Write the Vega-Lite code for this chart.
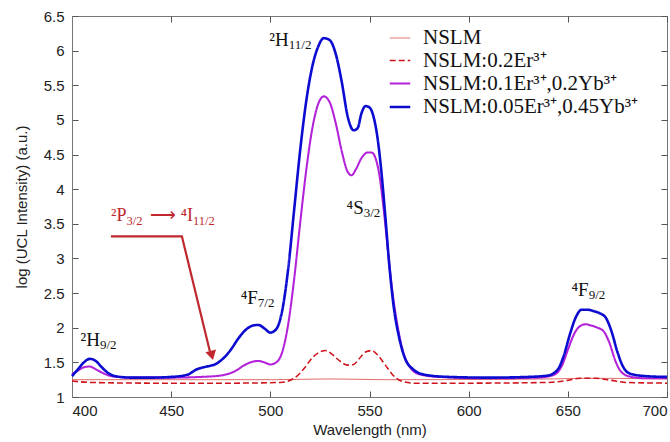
{
  "$schema": "https://vega.github.io/schema/vega-lite/v6.json",
  "width": 595,
  "height": 381,
  "autosize": "none",
  "padding": {"left": 72, "top": 16, "right": 3, "bottom": 45},
  "background": "white",
  "config": {
    "view": {"stroke": "#777", "strokeWidth": 1},
    "axis": {"labelFont": "Liberation Sans", "titleFont": "Liberation Sans", "labelFontSize": 15, "titleFontSize": 15, "labelColor": "#222", "titleColor": "#222", "titleFontWeight": "normal", "domainColor": "#777", "tickColor": "#555", "tickWidth": 1, "grid": false}
  },
  "datasets": {
    "spec": [
      {"s": "NSLM", "w": 400, "v": 1.25}, {"s": "NSLM", "w": 450, "v": 1.25}, {"s": "NSLM", "w": 500, "v": 1.25}, {"s": "NSLM", "w": 530, "v": 1.26}, {"s": "NSLM", "w": 560, "v": 1.25}, {"s": "NSLM", "w": 640, "v": 1.26}, {"s": "NSLM", "w": 660, "v": 1.27}, {"s": "NSLM", "w": 700, "v": 1.26},

      {"s": "NSLM:0.2Er³⁺", "w": 400, "v": 1.23}, {"s": "NSLM:0.2Er³⁺", "w": 410, "v": 1.21}, {"s": "NSLM:0.2Er³⁺", "w": 440, "v": 1.2}, {"s": "NSLM:0.2Er³⁺", "w": 480, "v": 1.2}, {"s": "NSLM:0.2Er³⁺", "w": 505, "v": 1.21}, {"s": "NSLM:0.2Er³⁺", "w": 512, "v": 1.27}, {"s": "NSLM:0.2Er³⁺", "w": 517, "v": 1.41}, {"s": "NSLM:0.2Er³⁺", "w": 521, "v": 1.56}, {"s": "NSLM:0.2Er³⁺", "w": 525, "v": 1.65}, {"s": "NSLM:0.2Er³⁺", "w": 528, "v": 1.67}, {"s": "NSLM:0.2Er³⁺", "w": 531, "v": 1.62}, {"s": "NSLM:0.2Er³⁺", "w": 535, "v": 1.52}, {"s": "NSLM:0.2Er³⁺", "w": 539, "v": 1.46}, {"s": "NSLM:0.2Er³⁺", "w": 542, "v": 1.47}, {"s": "NSLM:0.2Er³⁺", "w": 545, "v": 1.56}, {"s": "NSLM:0.2Er³⁺", "w": 548, "v": 1.65}, {"s": "NSLM:0.2Er³⁺", "w": 551, "v": 1.67}, {"s": "NSLM:0.2Er³⁺", "w": 554, "v": 1.61}, {"s": "NSLM:0.2Er³⁺", "w": 558, "v": 1.46}, {"s": "NSLM:0.2Er³⁺", "w": 562, "v": 1.31}, {"s": "NSLM:0.2Er³⁺", "w": 566, "v": 1.23}, {"s": "NSLM:0.2Er³⁺", "w": 572, "v": 1.2}, {"s": "NSLM:0.2Er³⁺", "w": 600, "v": 1.2}, {"s": "NSLM:0.2Er³⁺", "w": 640, "v": 1.21}, {"s": "NSLM:0.2Er³⁺", "w": 650, "v": 1.24}, {"s": "NSLM:0.2Er³⁺", "w": 656, "v": 1.27}, {"s": "NSLM:0.2Er³⁺", "w": 664, "v": 1.27}, {"s": "NSLM:0.2Er³⁺", "w": 672, "v": 1.24}, {"s": "NSLM:0.2Er³⁺", "w": 680, "v": 1.21}, {"s": "NSLM:0.2Er³⁺", "w": 700, "v": 1.2},

      {"s": "NSLM:0.1Er³⁺,0.2Yb³⁺", "w": 400, "v": 1.33}, {"s": "NSLM:0.1Er³⁺,0.2Yb³⁺", "w": 403, "v": 1.38}, {"s": "NSLM:0.1Er³⁺,0.2Yb³⁺", "w": 406, "v": 1.43}, {"s": "NSLM:0.1Er³⁺,0.2Yb³⁺", "w": 409, "v": 1.44}, {"s": "NSLM:0.1Er³⁺,0.2Yb³⁺", "w": 412, "v": 1.4}, {"s": "NSLM:0.1Er³⁺,0.2Yb³⁺", "w": 416, "v": 1.34}, {"s": "NSLM:0.1Er³⁺,0.2Yb³⁺", "w": 420, "v": 1.3}, {"s": "NSLM:0.1Er³⁺,0.2Yb³⁺", "w": 430, "v": 1.28}, {"s": "NSLM:0.1Er³⁺,0.2Yb³⁺", "w": 450, "v": 1.28}, {"s": "NSLM:0.1Er³⁺,0.2Yb³⁺", "w": 465, "v": 1.29}, {"s": "NSLM:0.1Er³⁺,0.2Yb³⁺", "w": 475, "v": 1.31}, {"s": "NSLM:0.1Er³⁺,0.2Yb³⁺", "w": 482, "v": 1.37}, {"s": "NSLM:0.1Er³⁺,0.2Yb³⁺", "w": 487, "v": 1.46}, {"s": "NSLM:0.1Er³⁺,0.2Yb³⁺", "w": 491, "v": 1.51}, {"s": "NSLM:0.1Er³⁺,0.2Yb³⁺", "w": 494, "v": 1.52}, {"s": "NSLM:0.1Er³⁺,0.2Yb³⁺", "w": 497, "v": 1.5}, {"s": "NSLM:0.1Er³⁺,0.2Yb³⁺", "w": 500, "v": 1.47}, {"s": "NSLM:0.1Er³⁺,0.2Yb³⁺", "w": 503, "v": 1.5}, {"s": "NSLM:0.1Er³⁺,0.2Yb³⁺", "w": 506, "v": 1.65}, {"s": "NSLM:0.1Er³⁺,0.2Yb³⁺", "w": 509, "v": 2.05}, {"s": "NSLM:0.1Er³⁺,0.2Yb³⁺", "w": 512, "v": 2.7}, {"s": "NSLM:0.1Er³⁺,0.2Yb³⁺", "w": 515, "v": 3.5}, {"s": "NSLM:0.1Er³⁺,0.2Yb³⁺", "w": 518, "v": 4.25}, {"s": "NSLM:0.1Er³⁺,0.2Yb³⁺", "w": 521, "v": 4.85}, {"s": "NSLM:0.1Er³⁺,0.2Yb³⁺", "w": 524, "v": 5.22}, {"s": "NSLM:0.1Er³⁺,0.2Yb³⁺", "w": 527, "v": 5.34}, {"s": "NSLM:0.1Er³⁺,0.2Yb³⁺", "w": 530, "v": 5.25}, {"s": "NSLM:0.1Er³⁺,0.2Yb³⁺", "w": 533, "v": 4.95}, {"s": "NSLM:0.1Er³⁺,0.2Yb³⁺", "w": 536, "v": 4.55}, {"s": "NSLM:0.1Er³⁺,0.2Yb³⁺", "w": 539, "v": 4.25}, {"s": "NSLM:0.1Er³⁺,0.2Yb³⁺", "w": 541, "v": 4.2}, {"s": "NSLM:0.1Er³⁺,0.2Yb³⁺", "w": 543, "v": 4.28}, {"s": "NSLM:0.1Er³⁺,0.2Yb³⁺", "w": 546, "v": 4.45}, {"s": "NSLM:0.1Er³⁺,0.2Yb³⁺", "w": 549, "v": 4.53}, {"s": "NSLM:0.1Er³⁺,0.2Yb³⁺", "w": 551, "v": 4.53}, {"s": "NSLM:0.1Er³⁺,0.2Yb³⁺", "w": 553, "v": 4.45}, {"s": "NSLM:0.1Er³⁺,0.2Yb³⁺", "w": 555, "v": 4.2}, {"s": "NSLM:0.1Er³⁺,0.2Yb³⁺", "w": 557, "v": 3.75}, {"s": "NSLM:0.1Er³⁺,0.2Yb³⁺", "w": 559, "v": 3.2}, {"s": "NSLM:0.1Er³⁺,0.2Yb³⁺", "w": 561, "v": 2.65}, {"s": "NSLM:0.1Er³⁺,0.2Yb³⁺", "w": 564, "v": 2.05}, {"s": "NSLM:0.1Er³⁺,0.2Yb³⁺", "w": 567, "v": 1.65}, {"s": "NSLM:0.1Er³⁺,0.2Yb³⁺", "w": 570, "v": 1.45}, {"s": "NSLM:0.1Er³⁺,0.2Yb³⁺", "w": 575, "v": 1.33}, {"s": "NSLM:0.1Er³⁺,0.2Yb³⁺", "w": 585, "v": 1.29}, {"s": "NSLM:0.1Er³⁺,0.2Yb³⁺", "w": 610, "v": 1.27}, {"s": "NSLM:0.1Er³⁺,0.2Yb³⁺", "w": 635, "v": 1.28}, {"s": "NSLM:0.1Er³⁺,0.2Yb³⁺", "w": 643, "v": 1.32}, {"s": "NSLM:0.1Er³⁺,0.2Yb³⁺", "w": 647, "v": 1.45}, {"s": "NSLM:0.1Er³⁺,0.2Yb³⁺", "w": 650, "v": 1.68}, {"s": "NSLM:0.1Er³⁺,0.2Yb³⁺", "w": 653, "v": 1.9}, {"s": "NSLM:0.1Er³⁺,0.2Yb³⁺", "w": 656, "v": 2.02}, {"s": "NSLM:0.1Er³⁺,0.2Yb³⁺", "w": 659, "v": 2.05}, {"s": "NSLM:0.1Er³⁺,0.2Yb³⁺", "w": 662, "v": 2.03}, {"s": "NSLM:0.1Er³⁺,0.2Yb³⁺", "w": 665, "v": 2.0}, {"s": "NSLM:0.1Er³⁺,0.2Yb³⁺", "w": 668, "v": 1.95}, {"s": "NSLM:0.1Er³⁺,0.2Yb³⁺", "w": 671, "v": 1.78}, {"s": "NSLM:0.1Er³⁺,0.2Yb³⁺", "w": 674, "v": 1.52}, {"s": "NSLM:0.1Er³⁺,0.2Yb³⁺", "w": 677, "v": 1.36}, {"s": "NSLM:0.1Er³⁺,0.2Yb³⁺", "w": 682, "v": 1.29}, {"s": "NSLM:0.1Er³⁺,0.2Yb³⁺", "w": 690, "v": 1.27}, {"s": "NSLM:0.1Er³⁺,0.2Yb³⁺", "w": 700, "v": 1.27},

      {"s": "NSLM:0.05Er³⁺,0.45Yb³⁺", "w": 400, "v": 1.3}, {"s": "NSLM:0.05Er³⁺,0.45Yb³⁺", "w": 403, "v": 1.4}, {"s": "NSLM:0.05Er³⁺,0.45Yb³⁺", "w": 406, "v": 1.5}, {"s": "NSLM:0.05Er³⁺,0.45Yb³⁺", "w": 409, "v": 1.55}, {"s": "NSLM:0.05Er³⁺,0.45Yb³⁺", "w": 412, "v": 1.52}, {"s": "NSLM:0.05Er³⁺,0.45Yb³⁺", "w": 415, "v": 1.43}, {"s": "NSLM:0.05Er³⁺,0.45Yb³⁺", "w": 418, "v": 1.35}, {"s": "NSLM:0.05Er³⁺,0.45Yb³⁺", "w": 422, "v": 1.3}, {"s": "NSLM:0.05Er³⁺,0.45Yb³⁺", "w": 430, "v": 1.28}, {"s": "NSLM:0.05Er³⁺,0.45Yb³⁺", "w": 440, "v": 1.28}, {"s": "NSLM:0.05Er³⁺,0.45Yb³⁺", "w": 450, "v": 1.29}, {"s": "NSLM:0.05Er³⁺,0.45Yb³⁺", "w": 458, "v": 1.32}, {"s": "NSLM:0.05Er³⁺,0.45Yb³⁺", "w": 463, "v": 1.4}, {"s": "NSLM:0.05Er³⁺,0.45Yb³⁺", "w": 468, "v": 1.44}, {"s": "NSLM:0.05Er³⁺,0.45Yb³⁺", "w": 472, "v": 1.47}, {"s": "NSLM:0.05Er³⁺,0.45Yb³⁺", "w": 476, "v": 1.55}, {"s": "NSLM:0.05Er³⁺,0.45Yb³⁺", "w": 480, "v": 1.68}, {"s": "NSLM:0.05Er³⁺,0.45Yb³⁺", "w": 484, "v": 1.85}, {"s": "NSLM:0.05Er³⁺,0.45Yb³⁺", "w": 488, "v": 1.98}, {"s": "NSLM:0.05Er³⁺,0.45Yb³⁺", "w": 491, "v": 2.03}, {"s": "NSLM:0.05Er³⁺,0.45Yb³⁺", "w": 494, "v": 2.04}, {"s": "NSLM:0.05Er³⁺,0.45Yb³⁺", "w": 497, "v": 1.99}, {"s": "NSLM:0.05Er³⁺,0.45Yb³⁺", "w": 500, "v": 1.93}, {"s": "NSLM:0.05Er³⁺,0.45Yb³⁺", "w": 503, "v": 1.98}, {"s": "NSLM:0.05Er³⁺,0.45Yb³⁺", "w": 506, "v": 2.25}, {"s": "NSLM:0.05Er³⁺,0.45Yb³⁺", "w": 509, "v": 2.85}, {"s": "NSLM:0.05Er³⁺,0.45Yb³⁺", "w": 512, "v": 3.7}, {"s": "NSLM:0.05Er³⁺,0.45Yb³⁺", "w": 515, "v": 4.55}, {"s": "NSLM:0.05Er³⁺,0.45Yb³⁺", "w": 518, "v": 5.25}, {"s": "NSLM:0.05Er³⁺,0.45Yb³⁺", "w": 521, "v": 5.75}, {"s": "NSLM:0.05Er³⁺,0.45Yb³⁺", "w": 524, "v": 6.05}, {"s": "NSLM:0.05Er³⁺,0.45Yb³⁺", "w": 527, "v": 6.18}, {"s": "NSLM:0.05Er³⁺,0.45Yb³⁺", "w": 530, "v": 6.15}, {"s": "NSLM:0.05Er³⁺,0.45Yb³⁺", "w": 533, "v": 5.95}, {"s": "NSLM:0.05Er³⁺,0.45Yb³⁺", "w": 536, "v": 5.55}, {"s": "NSLM:0.05Er³⁺,0.45Yb³⁺", "w": 539, "v": 5.05}, {"s": "NSLM:0.05Er³⁺,0.45Yb³⁺", "w": 542, "v": 4.85}, {"s": "NSLM:0.05Er³⁺,0.45Yb³⁺", "w": 544, "v": 4.88}, {"s": "NSLM:0.05Er³⁺,0.45Yb³⁺", "w": 546, "v": 5.1}, {"s": "NSLM:0.05Er³⁺,0.45Yb³⁺", "w": 548, "v": 5.2}, {"s": "NSLM:0.05Er³⁺,0.45Yb³⁺", "w": 550, "v": 5.18}, {"s": "NSLM:0.05Er³⁺,0.45Yb³⁺", "w": 552, "v": 5.05}, {"s": "NSLM:0.05Er³⁺,0.45Yb³⁺", "w": 554, "v": 4.75}, {"s": "NSLM:0.05Er³⁺,0.45Yb³⁺", "w": 556, "v": 4.25}, {"s": "NSLM:0.05Er³⁺,0.45Yb³⁺", "w": 558, "v": 3.6}, {"s": "NSLM:0.05Er³⁺,0.45Yb³⁺", "w": 560, "v": 2.9}, {"s": "NSLM:0.05Er³⁺,0.45Yb³⁺", "w": 562, "v": 2.35}, {"s": "NSLM:0.05Er³⁺,0.45Yb³⁺", "w": 565, "v": 1.85}, {"s": "NSLM:0.05Er³⁺,0.45Yb³⁺", "w": 568, "v": 1.55}, {"s": "NSLM:0.05Er³⁺,0.45Yb³⁺", "w": 572, "v": 1.4}, {"s": "NSLM:0.05Er³⁺,0.45Yb³⁺", "w": 578, "v": 1.32}, {"s": "NSLM:0.05Er³⁺,0.45Yb³⁺", "w": 590, "v": 1.29}, {"s": "NSLM:0.05Er³⁺,0.45Yb³⁺", "w": 610, "v": 1.28}, {"s": "NSLM:0.05Er³⁺,0.45Yb³⁺", "w": 630, "v": 1.29}, {"s": "NSLM:0.05Er³⁺,0.45Yb³⁺", "w": 640, "v": 1.31}, {"s": "NSLM:0.05Er³⁺,0.45Yb³⁺", "w": 645, "v": 1.4}, {"s": "NSLM:0.05Er³⁺,0.45Yb³⁺", "w": 648, "v": 1.6}, {"s": "NSLM:0.05Er³⁺,0.45Yb³⁺", "w": 651, "v": 1.9}, {"s": "NSLM:0.05Er³⁺,0.45Yb³⁺", "w": 654, "v": 2.15}, {"s": "NSLM:0.05Er³⁺,0.45Yb³⁺", "w": 657, "v": 2.26}, {"s": "NSLM:0.05Er³⁺,0.45Yb³⁺", "w": 660, "v": 2.26}, {"s": "NSLM:0.05Er³⁺,0.45Yb³⁺", "w": 663, "v": 2.24}, {"s": "NSLM:0.05Er³⁺,0.45Yb³⁺", "w": 666, "v": 2.21}, {"s": "NSLM:0.05Er³⁺,0.45Yb³⁺", "w": 669, "v": 2.15}, {"s": "NSLM:0.05Er³⁺,0.45Yb³⁺", "w": 672, "v": 1.95}, {"s": "NSLM:0.05Er³⁺,0.45Yb³⁺", "w": 675, "v": 1.65}, {"s": "NSLM:0.05Er³⁺,0.45Yb³⁺", "w": 678, "v": 1.43}, {"s": "NSLM:0.05Er³⁺,0.45Yb³⁺", "w": 682, "v": 1.33}, {"s": "NSLM:0.05Er³⁺,0.45Yb³⁺", "w": 690, "v": 1.3}, {"s": "NSLM:0.05Er³⁺,0.45Yb³⁺", "w": 700, "v": 1.29}
    ],
    "labbase": [
      {"t": "²H", "w": 509.3, "v": 6.15},
      {"t": "⁴S", "w": 547.1, "v": 3.73},
      {"t": "⁴F", "w": 493.7, "v": 2.43},
      {"t": "²H", "w": 414.1, "v": 1.82},
      {"t": "⁴F", "w": 660.5, "v": 2.54}
    ],
    "labsub": [
      {"t": "11/2", "w": 509.3, "v": 6.15},
      {"t": "3/2", "w": 547.1, "v": 3.73},
      {"t": "7/2", "w": 493.7, "v": 2.43},
      {"t": "9/2", "w": 414.1, "v": 1.82},
      {"t": "9/2", "w": 660.5, "v": 2.54}
    ],
    "redbase": [
      {"t": "²P", "w": 427.5, "v": 3.61},
      {"t": "⟶ ⁴I", "w": 461, "v": 3.61}
    ],
    "redsub": [
      {"t": "3/2", "w": 427.5, "v": 3.61},
      {"t": "11/2", "w": 461, "v": 3.61}
    ],
    "arrow": [
      {"o": 1, "w": 419.6, "v": 3.32},
      {"o": 2, "w": 455.4, "v": 3.32},
      {"o": 3, "w": 469.5, "v": 1.66}
    ],
    "tip": [
      {"w": 470.5, "v": 1.6}
    ]
  },
  "resolve": {"axis": {"x": "independent", "y": "independent"}},
  "layer": [
    {
      "data": {"name": "spec"},
      "mark": {"type": "line", "interpolate": "monotone"},
      "encoding": {
        "x": {"field": "w", "type": "quantitative", "scale": {"domain": [400, 700], "nice": false}, "axis": {"title": "Wavelength (nm)", "values": [400, 450, 500, 550, 600, 650, 700], "labelFlush": true, "tickSize": -6, "labelPadding": 12, "titlePadding": 4}},
        "y": {"field": "v", "type": "quantitative", "scale": {"domain": [1, 6.5], "nice": false}, "axis": {"title": "log (UCL Intensity) (a.u.)", "values": [1, 1.5, 2, 2.5, 3, 3.5, 4, 4.5, 5, 5.5, 6, 6.5], "labelExpr": "datum.value + ''", "tickSize": -6, "labelPadding": 14, "titlePadding": 14}},
        "color": {"field": "s", "type": "nominal", "sort": null, "title": null,
          "scale": {"domain": ["NSLM", "NSLM:0.2Er³⁺", "NSLM:0.1Er³⁺,0.2Yb³⁺", "NSLM:0.05Er³⁺,0.45Yb³⁺"], "range": ["#e06a6a", "#d0121b", "#b322d8", "#0c0cd0"]},
          "legend": {"orient": "none", "legendX": 316, "legendY": 11, "labelFont": "Liberation Serif", "labelFontSize": 21, "labelColor": "#111", "symbolType": "stroke", "symbolSize": 420, "rowPadding": 1, "labelOffset": 11, "labelLimit": 400}},
        "strokeDash": {"field": "s", "type": "nominal", "sort": null, "title": null,
          "scale": {"domain": ["NSLM", "NSLM:0.2Er³⁺", "NSLM:0.1Er³⁺,0.2Yb³⁺", "NSLM:0.05Er³⁺,0.45Yb³⁺"], "range": [[1, 0], [6, 3], [1, 0], [1, 0]]}},
        "strokeWidth": {"field": "s", "type": "nominal", "sort": null, "title": null,
          "scale": {"domain": ["NSLM", "NSLM:0.2Er³⁺", "NSLM:0.1Er³⁺,0.2Yb³⁺", "NSLM:0.05Er³⁺,0.45Yb³⁺"], "range": [1, 2.6, 1.6, 2.6]}}
      }
    },
    {
      "data": {"name": "labbase"},
      "mark": {"type": "text", "font": "Liberation Serif", "fontSize": 19, "color": "#111", "align": "right", "baseline": "middle"},
      "encoding": {
        "x": {"field": "w", "type": "quantitative", "axis": {"orient": "top", "labels": false, "title": null, "domain": false, "values": [400, 450, 500, 550, 600, 650, 700], "tickSize": -6}},
        "y": {"field": "v", "type": "quantitative", "axis": {"orient": "right", "labels": false, "title": null, "domain": false, "values": [1, 1.5, 2, 2.5, 3, 3.5, 4, 4.5, 5, 5.5, 6, 6.5], "tickSize": -6}},
        "text": {"field": "t"}
      }
    },
    {
      "data": {"name": "labsub"},
      "mark": {"type": "text", "font": "Liberation Serif", "fontSize": 13, "color": "#111", "align": "left", "baseline": "middle", "dy": 5},
      "encoding": {
        "x": {"field": "w", "type": "quantitative", "axis": null},
        "y": {"field": "v", "type": "quantitative", "axis": null},
        "text": {"field": "t"}
      }
    },
    {
      "data": {"name": "redbase"},
      "mark": {"type": "text", "font": "Liberation Serif", "fontSize": 18, "color": "#c0282d", "align": "right", "baseline": "middle"},
      "encoding": {
        "x": {"field": "w", "type": "quantitative", "axis": null},
        "y": {"field": "v", "type": "quantitative", "axis": null},
        "text": {"field": "t"}
      }
    },
    {
      "data": {"name": "redsub"},
      "mark": {"type": "text", "font": "Liberation Serif", "fontSize": 12.5, "color": "#c0282d", "align": "left", "baseline": "middle", "dy": 5},
      "encoding": {
        "x": {"field": "w", "type": "quantitative", "axis": null},
        "y": {"field": "v", "type": "quantitative", "axis": null},
        "text": {"field": "t"}
      }
    },
    {
      "data": {"name": "arrow"},
      "mark": {"type": "line", "color": "#c0282d", "strokeWidth": 2.2},
      "encoding": {
        "x": {"field": "w", "type": "quantitative", "axis": null},
        "y": {"field": "v", "type": "quantitative", "axis": null},
        "order": {"field": "o"}
      }
    },
    {
      "data": {"name": "tip"},
      "mark": {"type": "point", "shape": "triangle-down", "filled": true, "color": "#c0282d", "size": 120, "angle": -14, "opacity": 1},
      "encoding": {
        "x": {"field": "w", "type": "quantitative", "axis": null},
        "y": {"field": "v", "type": "quantitative", "axis": null}
      }
    }
  ]
}
